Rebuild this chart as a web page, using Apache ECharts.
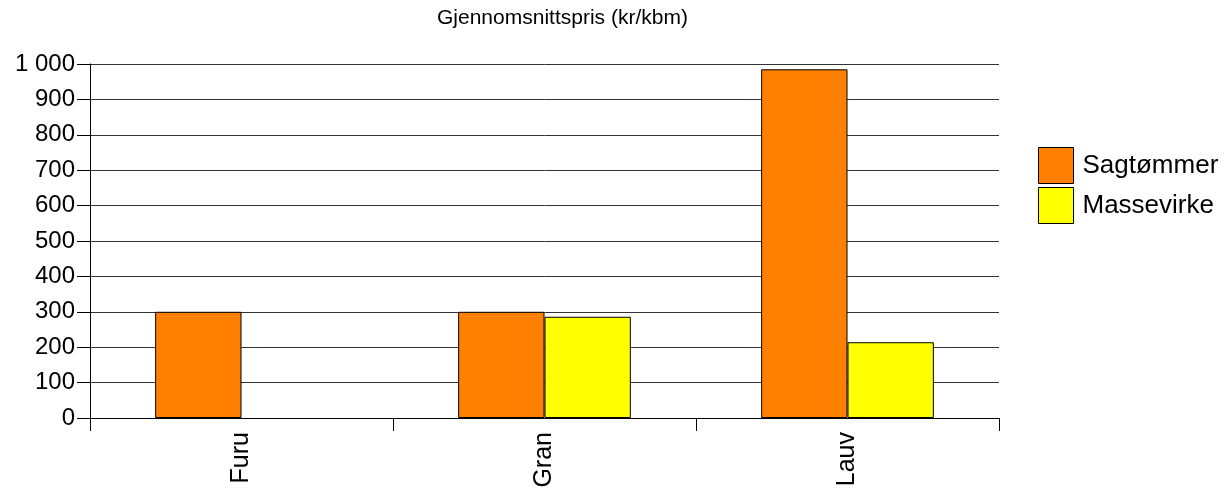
<!DOCTYPE html>
<html>
<head>
<meta charset="utf-8">
<script src="https://cdn.jsdelivr.net/npm/echarts@6/dist/echarts.min.js"></script>
<style>
html,body{margin:0;padding:0;background:#fff;}
#c{width:1228px;height:488px;}
</style>
</head>
<body>
<div id="c"></div>
<script>
const titleText = 'Gjennomsnittspris (kr/kbm)';
const categories = ['Furu', 'Gran', 'Lauv'];
const seriesNames = ['Sagtømmer', 'Massevirke'];
const sagtommer = [300, 300, 985];
const massevirke = [null, 286, 214];
const yMin = 0, yMax = 1000, yStep = 100;

const FONT = '"Liberation Sans", Arial, sans-serif';
const chart = echarts.init(document.getElementById('c'), null, {renderer: 'canvas'});
chart.setOption({
  animation: false,
  backgroundColor: '#ffffff',
  title: {
    text: titleText,
    left: 437, top: 8, padding: 0,
    textStyle: {fontFamily: FONT, fontSize: 21, fontWeight: 'normal', color: '#000'}
  },
  legend: {
    orient: 'vertical',
    left: 1038, top: 147, padding: 0,
    itemWidth: 35, itemHeight: 36, itemGap: 3,
    icon: 'rect',
    textStyle: {fontFamily: FONT, fontSize: 26, color: '#000', padding: [0, 0, 0, 4]},
    itemStyle: {borderColor: '#000', borderWidth: 1},
    data: seriesNames
  },
  grid: {left: 90, right: 229, top: 64, bottom: 70, containLabel: false, outerBoundsMode: 'none'},
  xAxis: {
    type: 'category',
    data: categories,
    axisLine: {show: true, lineStyle: {color: '#000', width: 1}},
    axisTick: {show: true, length: 13, alignWithLabel: false, lineStyle: {color: '#000'}},
    axisLabel: {rotate: 90, margin: 14, fontFamily: FONT, fontSize: 25, color: '#000'}
  },
  yAxis: {
    type: 'value',
    min: yMin, max: yMax, interval: yStep,
    axisLine: {show: true, lineStyle: {color: '#000', width: 1}},
    axisTick: {show: true, length: 13, lineStyle: {color: '#000'}},
    splitLine: {show: true, lineStyle: {color: '#333', width: 1}},
    axisLabel: {
      margin: 15, fontFamily: FONT, fontSize: 24, color: '#000',
      padding: [6, 0, 0, 0],
      formatter: v => String(v).replace(/\B(?=(\d{3})+(?!\d))/g, ' ')
    }
  },
  series: [
    {
      name: seriesNames[0], type: 'bar', data: sagtommer,
      barGap: '0%', barCategoryGap: '43%',
      itemStyle: {color: '#ff8000', borderColor: '#000', borderWidth: 1}
    },
    {
      name: seriesNames[1], type: 'bar', data: massevirke,
      barGap: '0%', barCategoryGap: '43%',
      itemStyle: {color: '#ffff00', borderColor: '#000', borderWidth: 1}
    }
  ]
});
</script>
</body>
</html>
